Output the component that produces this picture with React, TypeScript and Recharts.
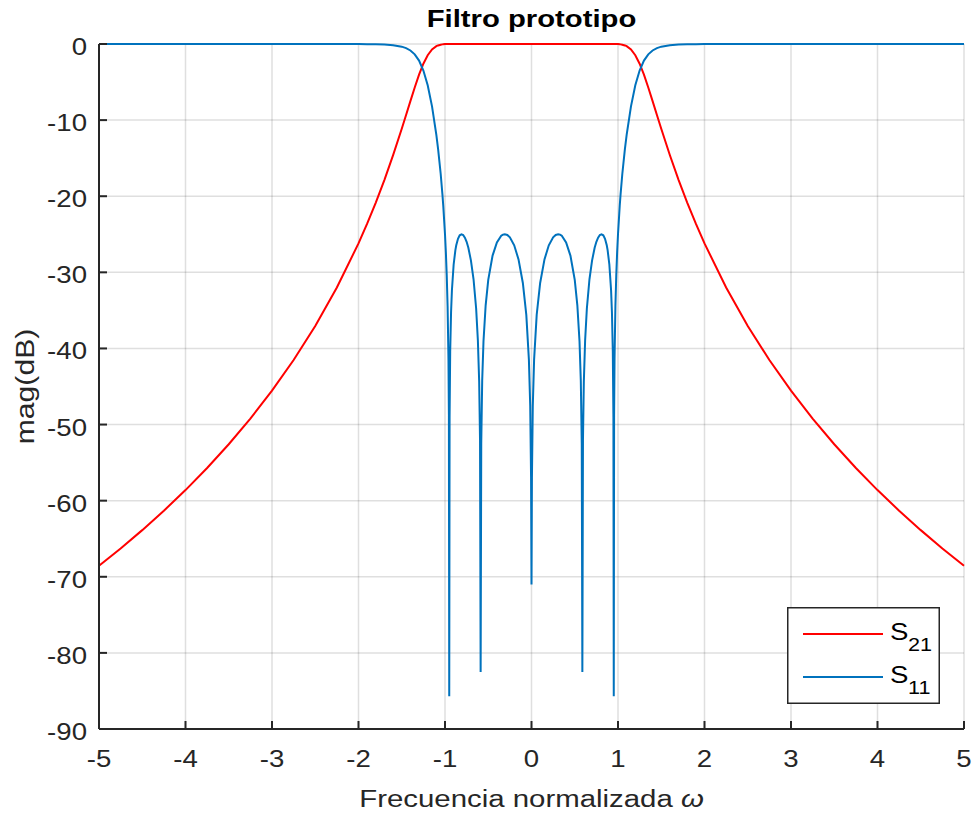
import React from "react";
import { CartesianGrid, Legend, Line, LineChart, XAxis, YAxis } from "recharts";

// Normalized frequency, positive half only: the prototype response is symmetric about 0
const freq = [
  0, 0.005, 0.015, 0.03, 0.06, 0.1, 0.15, 0.2, 0.25, 0.28,
  0.309, 0.33, 0.35, 0.4, 0.45, 0.5, 0.53, 0.555, 0.57, 0.581,
  0.588, 0.595, 0.605, 0.62, 0.64, 0.67, 0.7, 0.73, 0.75, 0.77,
  0.79, 0.809, 0.83, 0.85, 0.87, 0.88, 0.9, 0.92, 0.93, 0.94,
  0.947, 0.951, 0.955, 0.96, 0.97, 0.98, 0.99, 1.0, 1.02, 1.03,
  1.05, 1.08, 1.1, 1.15, 1.2, 1.25, 1.3, 1.35, 1.4, 1.45,
  1.5, 1.6, 1.7, 1.8, 1.9, 2.0, 2.25, 2.5, 2.75, 3.0,
  3.25, 3.5, 3.75, 4.0, 4.25, 4.5, 4.75, 5.0,
];

// |S21| in dB
const s21Db = [
  0, 0, 0, 0, 0, 0, 0, 0, 0, 0,
  0, 0, 0, 0, 0, 0, 0, 0, 0, 0,
  0, 0, 0, 0, 0, 0, 0, 0, 0, 0,
  0, 0, 0, 0, 0, 0, 0, 0, 0, 0,
  0, 0, 0, 0, 0, 0, 0, -0.01, -0.03, -0.05,
  -0.09, -0.19, -0.29, -0.72, -1.47, -2.59, -4.03, -5.71, -7.5, -9.33,
  -11.14, -14.61, -17.85, -20.84, -23.61, -26.2, -31.99, -37.04, -41.52, -45.55,
  -49.22, -52.59, -55.71, -58.61, -61.32, -63.87, -66.28, -68.55,
];

// |S11| in dB
const s11Db = [
  -71, -57.0, -47.5, -41.5, -35.6, -31.4, -28.3, -26.45, -25.4, -25.09,
  -25.0, -25.04, -25.19, -26.06, -27.8, -31.0, -34.33, -39.05, -44.25, -52.5,
  -82.5, -52.06, -44.35, -38.92, -34.75, -30.91, -28.46, -26.77, -25.99, -25.44,
  -25.09, -25.0, -25.13, -25.59, -26.45, -27.08, -28.97, -32.35, -35.27, -40.42,
  -49.03, -85.7, -48.67, -41.39, -34.46, -30.36, -27.37, -25.0, -21.26, -19.72,
  -17.05, -13.77, -11.93, -8.19, -5.43, -3.48, -2.18, -1.36, -0.85, -0.54,
  -0.35, -0.15, -0.07, -0.04, -0.02, -0.01, 0, 0, 0, 0,
  0, 0, 0, 0, 0, 0, 0, 0,
];

const seriesNames = ["S21", "S11"];
const xTicks = [-5, -4, -3, -2, -1, 0, 1, 2, 3, 4, 5];
const yTicks = [-90, -80, -70, -60, -50, -40, -30, -20, -10, 0];

const half = freq.map((w, i) => ({ w, S21: s21Db[i], S11: s11Db[i] }));
const data = [
  ...half
    .slice(1)
    .reverse()
    .map((p) => ({ ...p, w: -p.w })),
  ...half,
];

const FONT = '"Liberation Sans", Arial, Helvetica, sans-serif';
const INK = "#262626";
const RED = "#ff0000";
const BLUE = "#0072bd";

// the reference font runs wider than Arial, so text is stretched along its baseline
const STRETCH = 1.2;

const axisLine = { stroke: INK, strokeWidth: 2 };

function XTick({ x, y, payload }: any) {
  return (
    <text
      transform={`translate(${x} ${y + 15}) scale(${STRETCH} 1)`}
      textAnchor="middle"
      fontFamily={FONT}
      fontSize={23}
      fill={INK}
    >
      {String(payload.value)}
    </text>
  );
}

function YTick({ x, y, payload }: any) {
  return (
    <text
      transform={`translate(${x} ${y + 11}) scale(${STRETCH} 1)`}
      textAnchor="end"
      fontFamily={FONT}
      fontSize={23}
      fill={INK}
    >
      {String(payload.value)}
    </text>
  );
}

function XLabel({ viewBox }: any) {
  const cx = viewBox.x + viewBox.width / 2;
  return (
    <text
      transform={`translate(${cx} ${viewBox.y + 78}) scale(${STRETCH} 1)`}
      textAnchor="middle"
      fontFamily={FONT}
      fontSize={24.5}
      fill={INK}
    >
      Frecuencia normalizada <tspan fontStyle="italic">ω</tspan>
    </text>
  );
}

function YLabel({ viewBox }: any) {
  const cy = viewBox.y + viewBox.height / 2;
  return (
    <text
      transform={`translate(34 ${cy}) rotate(-90) scale(1.16 1)`}
      textAnchor="middle"
      fontFamily={FONT}
      fontSize={26}
      fill={INK}
    >
      mag(dB)
    </text>
  );
}

function LegendBox({ payload }: any) {
  const items = ((payload ?? []) as { value: string; color: string }[])
    .slice()
    .sort((a, b) => seriesNames.indexOf(a.value) - seriesNames.indexOf(b.value));
  return (
    <svg width={153} height={97} style={{ display: "block" }}>
      <rect
        x={0.75}
        y={0.75}
        width={151.5}
        height={95.5}
        fill="#fff"
        stroke={INK}
        strokeWidth={1.5}
      />
      {items.map((item, i) => {
        const y = 27 + i * 43;
        return (
          <g key={item.value}>
            <line x1={16} x2={96} y1={y} y2={y} stroke={item.color} strokeWidth={2} />
            <text
              transform={`translate(103 ${y + 5.5}) scale(${STRETCH} 1)`}
              fontFamily={FONT}
              fontSize={23}
              fill="#000"
            >
              {item.value.charAt(0)}
            </text>
            <text
              transform={`translate(121 ${y + 17}) scale(${STRETCH} 1)`}
              fontFamily={FONT}
              fontSize={18}
              fill="#000"
            >
              {item.value.slice(1)}
            </text>
          </g>
        );
      })}
    </svg>
  );
}

export default function App() {
  return (
    <div style={{ position: "absolute", left: 0, top: 0, width: 976, height: 816, background: "#fff" }}>
      <LineChart
        width={976}
        height={816}
        data={data}
        margin={{ top: 44, right: 12, bottom: 7, left: 9 }}
      >
        <CartesianGrid stroke={INK} strokeOpacity={0.15} strokeWidth={1.5} />
        <XAxis
          dataKey="w"
          type="number"
          domain={[-5, 5]}
          ticks={xTicks}
          interval={0}
          height={80}
          tickSize={-8}
          tickMargin={31}
          axisLine={axisLine}
          tickLine={axisLine}
          tick={<XTick />}
          label={<XLabel />}
        />
        {/* twin axes only close the box (top/right edges with inward ticks) */}
        <XAxis
          xAxisId="top"
          dataKey="w"
          orientation="top"
          type="number"
          domain={[-5, 5]}
          ticks={xTicks}
          interval={0}
          height={0}
          tickSize={-8}
          axisLine={axisLine}
          tickLine={axisLine}
          tick={false}
        />
        <YAxis
          type="number"
          domain={[-90, 0]}
          ticks={yTicks}
          interval={0}
          width={90}
          tickSize={-8}
          tickMargin={20}
          axisLine={axisLine}
          tickLine={axisLine}
          tick={<YTick />}
          label={<YLabel />}
        />
        <YAxis
          yAxisId="right"
          orientation="right"
          type="number"
          domain={[-90, 0]}
          ticks={yTicks}
          interval={0}
          width={0}
          tickSize={-8}
          axisLine={axisLine}
          tickLine={axisLine}
          tick={false}
        />
        <Legend
          layout="vertical"
          align="center"
          verticalAlign="middle"
          wrapperStyle={{ left: 787, top: 607, width: 153, height: 97 }}
          content={<LegendBox />}
        />
        <Line
          type="linear"
          dataKey="S21"
          name="S21"
          stroke={RED}
          strokeWidth={2}
          dot={false}
          activeDot={false}
          isAnimationActive={false}
        />
        <Line
          type="linear"
          dataKey="S11"
          name="S11"
          xAxisId="top"
          yAxisId="right"
          stroke={BLUE}
          strokeWidth={2}
          dot={false}
          activeDot={false}
          isAnimationActive={false}
        />
      </LineChart>
      <svg
        width={976}
        height={40}
        style={{ position: "absolute", left: 0, top: 0, pointerEvents: "none" }}
      >
        <text
          transform={`translate(531.5 27) scale(1.22 1)`}
          textAnchor="middle"
          fontFamily={FONT}
          fontSize={24}
          fontWeight="bold"
          fill="#000"
        >
          Filtro prototipo
        </text>
      </svg>
    </div>
  );
}
